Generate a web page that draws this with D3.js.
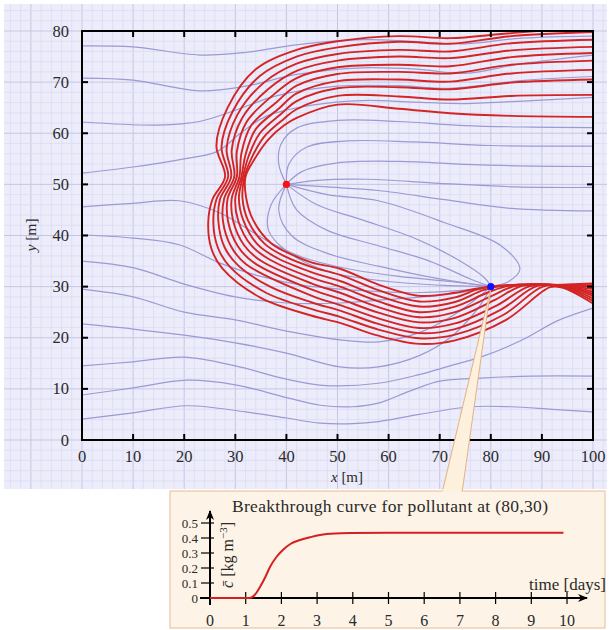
<!DOCTYPE html>
<html>
<head>
<meta charset="utf-8">
<script src="https://cdn.jsdelivr.net/npm/d3@7"></script>
<style>
  body { margin: 0; background: #fff; }
  text { font-family: "Liberation Serif", "DejaVu Serif", serif; fill: #2a2a2a; }
</style>
</head>
<body>
<script>
// main plot ticks
const xTicks = [0, 10, 20, 30, 40, 50, 60, 70, 80, 90, 100];
const yTicks = [0, 10, 20, 30, 40, 50, 60, 70, 80];

// wells
const sourceWell = [40, 50];
const sinkWell = [80, 30];

// blue streamlines (x, y in m)
const blueLines = [
  [[0,77.1],[10,76.9],[23,75.3],[32,75.8],[42,77.3],[55,78.3],[66,77.9],[75,77.5],[86,78.6],[100,79.0]],
  [[0,70.8],[10,70.4],[23,68.3],[32,69.2],[42,71.5],[55,72.8],[66,72.5],[75,71.7],[86,73.6],[100,75.3]],
  [[0,62.2],[15,61.6],[23,62.3],[30,64.5],[38,67.3],[50,69.2],[62,69.3],[72,68.8],[86,70.3],[100,71.1]],
  [[0,52.2],[10,53.4],[20,55.0],[26.4,56.4],[31,60],[36,63.3],[45,65.5],[55,66.4],[65,66.1],[75,65.8],[88,66.4],[100,67.0]],
  [[40,50],[38.5,54],[39,58],[42,61],[50,62.5],[62,62.3],[75,61.5],[88,61.2],[100,61.1]],
  [[40,50],[40.5,54],[44,57.3],[52,58.5],[65,58.3],[80,57.6],[100,57.5]],
  [[40,50],[43,52.5],[50,54.2],[62,54.5],[78,53.8],[100,53.5]],
  [[40,50],[46,50.8],[56,51],[70,50.2],[85,49.5],[100,49.4]],
  [[40,50],[48,49.5],[58,48.8],[71,47],[84,45.3],[100,44.8]],
  [[40,50],[48,48],[58,46.8],[71,42.5],[82,38],[85.7,33.5],[83.5,31],[80,30]],
  [[40,50],[46,46],[55,43],[65,39.5],[74,35],[79,31.5],[80,30]],
  [[40,50],[42,45],[48,41],[58,38],[68,35],[76,31.5],[80,30]],
  [[40,50],[38.5,45],[41,40],[48,36.5],[58,34],[70,31.5],[80,30]],
  [[40,50],[37,46],[36.5,41],[40,37],[48,33],[60,31],[72,30.2],[80,30]],
  [[0,45.6],[10,46.3],[19,46.8],[27,44.4],[36,39.1],[43,35.8],[52,33.5],[62,32],[72,31],[80,30]],
  [[0,40.1],[10,39.5],[19,38.2],[27,34.6],[35,32],[43,30.3],[55,29.2],[65,28.8],[75,29.3],[80,30]],
  [[0,35],[10,33.7],[20,30.5],[30,28],[40,26.8],[50.5,26.8],[60,27.5],[70,28.3],[77,29.3],[80,30]],
  [[0,29.5],[10,28],[20,25],[30,23.5],[40,21.3],[50.5,19.6],[58,19.2],[66,21],[72,24],[77,27.5],[80,30]],
  [[0,22.7],[10,21.7],[20,20.5],[30,19],[40,17],[50.5,14.3],[58,14.3],[66,16.5],[72,20],[76.5,24.5],[79,28],[80,30]],
  [[0,14.5],[10,15.3],[20,16.2],[30,14.5],[40,11.9],[47,10.7],[58,11.1],[66,12.8],[72,14.5],[78,16.2],[86,19.5],[93,23.3],[100,25.8]],
  [[0,8.8],[10,10.2],[20.5,11.7],[30,10.8],[40,8.3],[46.6,6.8],[53,6.5],[58,7.2],[64,9.5],[70,11.5],[78,12.1],[88,12.5],[100,12.5]],
  [[0,4.1],[10,5.3],[20.5,6.7],[32,5.5],[40,4.3],[46.6,3.3],[53,3.2],[58,3.6],[66,5],[76,6.5],[84,6.5],[92,6],[100,5.5]]
];

// red pathlines, outermost first
const redLines = [
  [[89,80],[82,79.4],[72,78.6],[62,79.0],[50,78.0],[42,76.3],[34,72.5],[28.5,65],[26.3,57.5],[28,51.5],[25.5,47],[24.7,42.5],[25.3,37.5],[27.5,33.5],[35,27.8],[45,24.3],[50.5,22.9],[58,20.4],[66,18.8],[73,19.5],[83,23.5],[91.6,29.9],[94,29.8],[100,26.7]],
  [[100,79.8],[84,79.0],[72,77.5],[62,77.9],[50,76.8],[42,75.0],[34.8,71.2],[29.5,64.3],[27.3,57.3],[28.6,51.5],[26.3,47.05],[25.7,42.55],[26.6,37.6],[29,33.8],[36,28.8],[45,25.6],[50.5,24.1],[58,21.6],[66,19.9],[73,20.6],[82.5,24.5],[90.2,30.0],[94,29.9],[100,27.2]],
  [[100,78.3],[84,77.6],[72,76.0],[62,76.3],[50,75.5],[42,73.6],[35.6,69.9],[30.4,63.6],[28.3,57],[29.2,51.5],[27.0,47.1],[26.7,42.6],[27.9,37.7],[30.6,34.1],[37,29.9],[45,26.9],[50.5,25.3],[58,22.7],[66,20.9],[73,21.7],[82,25.5],[89,30.1],[94,30.0],[100,27.7]],
  [[100,76.9],[84,76.2],[72,74.7],[62,75.0],[50,74.2],[42,72.2],[36.4,68.6],[31.3,62.9],[29.3,56.7],[29.8,51.5],[27.8,47.15],[27.6,42.7],[29.2,37.8],[32.1,34.4],[45,28.2],[50.5,26.4],[58,23.8],[66,21.9],[73,22.8],[81.3,26.4],[87.7,30.1],[94,30.1],[100,28.2]],
  [[100,75.7],[84,74.9],[72,73.1],[62,73.4],[50,72.9],[42,70.8],[37.2,67.3],[32.2,62.2],[30.3,56.4],[30.3,51.5],[28.5,47.2],[28.6,42.7],[30.5,37.9],[33.6,34.7],[45,29.4],[50.5,27.6],[58,24.9],[66,23.0],[73,23.9],[80.6,27.3],[86.3,30.2],[94,30.15],[100,28.6]],
  [[100,74.2],[84,73.4],[72,71.7],[62,72.0],[50,71.6],[42,69.3],[38,66.0],[33.1,61.5],[31.2,56.1],[30.8,51.5],[29.3,47.25],[29.6,42.8],[31.8,38.0],[35.1,35.0],[45,30.6],[50.5,28.8],[58,26.0],[66,24.0],[73,25.0],[80,28.1],[85.1,30.2],[94,30.2],[100,29.0]],
  [[100,72.4],[84,71.7],[72,70.1],[62,70.5],[50,70.2],[42,67.8],[38.6,64.9],[34,60.8],[32,55.8],[31.2,51.5],[30.0,47.3],[30.6,42.8],[33.1,38.1],[36.7,35.3],[45,31.7],[50.5,30.0],[58,27.1],[66,25.0],[73,26.1],[79.3,28.8],[83.8,30.2],[94,30.25],[100,29.5]],
  [[100,70.5],[84,69.9],[72,68.6],[62,69.0],[50,68.8],[42,66.3],[39.1,63.9],[34.8,60],[32.6,55.5],[31.5,51.5],[30.7,47.35],[31.6,42.9],[34.4,38.2],[38.2,35.6],[45,32.8],[50.5,31.1],[58,28.2],[66,26.1],[73,27.0],[78.5,29.3],[82.4,30.2],[94,30.3],[100,29.9]],
  [[100,67.5],[84,67.3],[72,66.6],[62,67.2],[50,67.3],[42,64.7],[39.6,62.9],[35.7,59.4],[33.2,55.2],[31.8,51.5],[31.4,47.4],[32.5,42.9],[35.7,38.4],[39.7,35.9],[45,33.8],[50.5,32.3],[58,29.3],[66,27.1],[73,27.9],[77.5,29.5],[80.8,30.1],[94,30.35],[100,30.3]],
  [[100,63.2],[84,63.4],[72,63.9],[62,64.8],[50,65.6],[42,63.0],[39.5,61.5],[36.5,58.8],[33.8,55],[32,51.5],[32.1,47.5],[33.5,43],[37,38.5],[41.2,36.2],[45,34.7],[50.5,33.5],[58,30.4],[66,28.2],[73,28.8],[77,29.6],[80,30],[94,30.4],[100,30.6]]
];

// breakthrough curve at (80,30)
const btTime = [0, 1.12, 1.25, 1.4, 1.55, 1.68, 1.85, 2.04, 2.25, 2.52, 2.8, 3.08, 3.5, 4, 5, 6, 7, 8, 9, 9.9];
const btConc = [0, 0, 0.02, 0.073, 0.14, 0.207, 0.27, 0.32, 0.36, 0.387, 0.405, 0.42, 0.43, 0.433, 0.435, 0.435, 0.435, 0.435, 0.435, 0.435];
const btXTicks = [0, 1, 2, 3, 4, 5, 6, 7, 8, 9, 10];
const btYTicks = [0, 0.1, 0.2, 0.3, 0.4, 0.5];

const W = 611, H = 630;
const svg = d3.select("body").append("svg")
  .attr("width", W)
  .attr("height", H);

const x = d3.scaleLinear().domain([0, 100]).range([82, 593]);
const y = d3.scaleLinear().domain([0, 80]).range([440, 31]);

// graph paper background
const panel = {x0: 4, x1: 607, y0: 4, y1: 489};
svg.append("rect")
  .attr("x", panel.x0).attr("y", panel.y0)
  .attr("width", panel.x1 - panel.x0).attr("height", panel.y1 - panel.y0)
  .attr("fill", "#ececfb");

const grid = svg.append("g");
grid.selectAll(".gx").data(d3.range(-16, 104, 2)).enter()
  .filter(v => x(v) >= panel.x0 && x(v) <= panel.x1)
  .append("line")
    .attr("x1", v => x(v)).attr("x2", v => x(v))
    .attr("y1", panel.y0).attr("y2", panel.y1)
    .attr("stroke", v => v % 10 === 0 ? "#c6c6e4" : "#dcdcf2")
    .attr("stroke-width", v => v % 10 === 0 ? 1 : 0.8);
grid.selectAll(".gy").data(d3.range(-10, 96, 2)).enter()
  .filter(v => y(v) >= panel.y0 && y(v) <= panel.y1)
  .append("line")
    .attr("y1", v => y(v)).attr("y2", v => y(v))
    .attr("x1", panel.x0).attr("x2", panel.x1)
    .attr("stroke", v => v % 10 === 0 ? "#c6c6e4" : "#dcdcf2")
    .attr("stroke-width", v => v % 10 === 0 ? 1 : 0.8);

svg.append("clipPath").attr("id", "plotclip")
  .append("rect")
    .attr("x", x(0)).attr("y", y(80))
    .attr("width", x(100) - x(0)).attr("height", y(0) - y(80));

const line = d3.line()
  .x(d => x(d[0]))
  .y(d => y(d[1]))
  .curve(d3.curveCatmullRom.alpha(0.5));

const plot = svg.append("g").attr("clip-path", "url(#plotclip)");

plot.selectAll(".blue").data(blueLines).enter()
  .append("path")
    .attr("d", line)
    .attr("fill", "none")
    .attr("stroke", "#9a9ad4")
    .attr("stroke-width", 1.2);

plot.selectAll(".red").data(redLines).enter()
  .append("path")
    .attr("d", line)
    .attr("fill", "none")
    .attr("stroke", "#d42424")
    .attr("stroke-width", 1.9);

// wells
svg.append("circle")
  .attr("cx", x(sourceWell[0])).attr("cy", y(sourceWell[1]))
  .attr("r", 3.6).attr("fill", "#ff1010");

// frame and inward ticks
svg.append("rect")
  .attr("x", x(0)).attr("y", y(80))
  .attr("width", x(100) - x(0)).attr("height", y(0) - y(80))
  .attr("fill", "none").attr("stroke", "#000").attr("stroke-width", 2);

const tk = svg.append("g").attr("stroke", "#000").attr("stroke-width", 2);
xTicks.slice(1, -1).forEach(v => {
  tk.append("line").attr("x1", x(v)).attr("x2", x(v)).attr("y1", y(0)).attr("y2", y(0) - 6);
  tk.append("line").attr("x1", x(v)).attr("x2", x(v)).attr("y1", y(80)).attr("y2", y(80) + 6);
});
yTicks.slice(1, -1).forEach(v => {
  tk.append("line").attr("y1", y(v)).attr("y2", y(v)).attr("x1", x(0)).attr("x2", x(0) + 6);
  tk.append("line").attr("y1", y(v)).attr("y2", y(v)).attr("x1", x(100)).attr("x2", x(100) - 6);
});

svg.selectAll(".xl").data(xTicks).enter()
  .append("text")
    .attr("x", d => x(d)).attr("y", 462)
    .attr("text-anchor", "middle").attr("font-size", "16.5px")
    .text(d => d);
svg.selectAll(".yl").data(yTicks).enter()
  .append("text")
    .attr("x", 69).attr("y", d => y(d) + 5.5)
    .attr("text-anchor", "end").attr("font-size", "16.5px")
    .text(d => d);

const xt = svg.append("text").attr("x", 347).attr("y", 482)
  .attr("text-anchor", "middle").attr("font-size", "15px");
xt.append("tspan").attr("font-style", "italic").text("x");
xt.append("tspan").text(" [m]");

const yt = svg.append("text")
  .attr("transform", "translate(36,235) rotate(-90)")
  .attr("text-anchor", "middle").attr("font-size", "15.5px");
yt.append("tspan").attr("font-style", "italic").text("y");
yt.append("tspan").text(" [m]");

// callout wedge and inset box
const sx = x(sinkWell[0]), sy = y(sinkWell[1]);
svg.append("path")
  .attr("d", `M${sx},${sy + 2} L442,493 L462,493 Z`)
  .attr("fill", "#fdf0dc")
  .attr("stroke", "#e3b285")
  .attr("stroke-width", 1);
svg.append("circle")
  .attr("cx", sx).attr("cy", sy)
  .attr("r", 3.6).attr("fill", "#1010ff");

svg.append("rect")
  .attr("x", 170).attr("y", 491).attr("width", 435).attr("height", 137)
  .attr("fill", "#fdf3e6").attr("stroke", "#e6bc95").attr("stroke-width", 1);
svg.append("rect")
  .attr("x", 442.5).attr("y", 489).attr("width", 19).attr("height", 4)
  .attr("fill", "#fdf1e0");

const tx = d3.scaleLinear().domain([0, 10]).range([210, 567]);
const cy = d3.scaleLinear().domain([0, 0.5]).range([598, 523]);

svg.append("text")
  .attr("x", 390).attr("y", 512)
  .attr("text-anchor", "middle").attr("font-size", "17.5px")
  .attr("textLength", 316).attr("lengthAdjust", "spacing")
  .text("Breakthrough curve for pollutant at (80,30)");

const defs = svg.append("defs");
defs.append("marker")
  .attr("id", "arr")
  .attr("viewBox", "0 0 10 10")
  .attr("refX", 9).attr("refY", 5)
  .attr("markerWidth", 5).attr("markerHeight", 5)
  .attr("markerUnits", "strokeWidth")
  .attr("orient", "auto")
  .append("path")
    .attr("d", "M0,1 L10,5 L0,9 L3,5 Z")
    .attr("fill", "#000");

const ax = svg.append("g").attr("stroke", "#000").attr("stroke-width", 2);
ax.append("line").attr("x1", 200).attr("x2", 587).attr("y1", cy(0)).attr("y2", cy(0))
  .attr("marker-end", "url(#arr)");
ax.append("line").attr("x1", tx(0)).attr("x2", tx(0)).attr("y1", 605).attr("y2", 511)
  .attr("marker-end", "url(#arr)");
btXTicks.forEach(v => {
  ax.append("line").attr("x1", tx(v)).attr("x2", tx(v)).attr("y1", cy(0) - 6).attr("y2", cy(0) + 6)
    .attr("stroke-width", 1.2);
});
btYTicks.forEach(v => {
  ax.append("line").attr("y1", cy(v)).attr("y2", cy(v)).attr("x1", tx(0) - 9).attr("x2", tx(0) + 4)
    .attr("stroke-width", 1.2);
});

svg.selectAll(".bxl").data(btXTicks).enter()
  .append("text")
    .attr("x", d => tx(d)).attr("y", 626)
    .attr("text-anchor", "middle").attr("font-size", "16px")
    .text(d => d);
svg.selectAll(".byl").data(btYTicks).enter()
  .append("text")
    .attr("x", 198).attr("y", d => cy(d) + 4.5)
    .attr("text-anchor", "end").attr("font-size", "13px")
    .text(d => d);

svg.append("text")
  .attr("x", 606).attr("y", 590)
  .attr("text-anchor", "end").attr("font-size", "17px")
  .text("time [days]");

const cl = svg.append("text")
  .attr("transform", "translate(233,555) rotate(-90)")
  .attr("text-anchor", "middle").attr("font-size", "16px");
cl.append("tspan").attr("font-style", "italic").text("c\u0304");
cl.append("tspan").text(" [kg m");
cl.append("tspan").attr("dy", -6).attr("font-size", "11px").text("\u22123");
cl.append("tspan").attr("dy", 6).text("]");

const btData = btTime.map((t, i) => [t, btConc[i]]);
svg.append("path")
  .datum(btData)
  .attr("d", d3.line().x(d => tx(d[0])).y(d => cy(d[1])).curve(d3.curveMonotoneX))
  .attr("fill", "none")
  .attr("stroke", "#d42020")
  .attr("stroke-width", 2);
</script>
</body>
</html>
